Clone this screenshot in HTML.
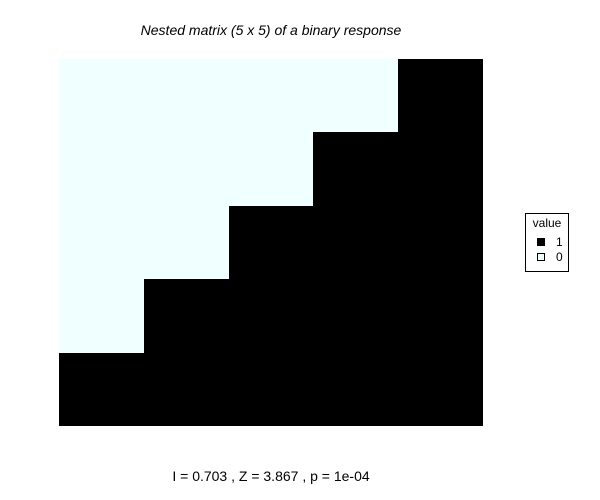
<!DOCTYPE html>
<html><head><meta charset="utf-8"><style>
body{margin:0;background:#fff;}
svg{display:block;font-family:"Liberation Sans",Arial,sans-serif;}
</style></head><body>
<svg id="chart" width="600" height="500">
<text x="271" y="35" text-anchor="middle" font-size="14" font-style="italic">Nested matrix (5 x 5) of a binary response</text>
<g id="cells"></g>
<text x="271" y="481" text-anchor="middle" font-size="14">I = 0.703 , Z = 3.867 , p = 1e-04</text>
<g>
<rect x="525.5" y="213.5" width="43" height="58" fill="#fff" stroke="#000"/>
<text x="547" y="227" text-anchor="middle" font-size="12">value</text>
<rect x="537.5" y="238.5" width="7" height="7" fill="#000" stroke="#000"/>
<text x="556" y="246" font-size="12">1</text>
<rect x="537.5" y="253.5" width="7" height="7" fill="#f0ffff" stroke="#000"/>
<text x="556" y="261" font-size="12">0</text>
</g>
</svg>
<script>
const rowsLabels = [1,2,3,4,5];
const colsLabels = [1,2,3,4,5];
const matrix = [
  [0,0,0,0,1],
  [0,0,0,1,1],
  [0,0,1,1,1],
  [0,1,1,1,1],
  [1,1,1,1,1]
];
const X0=59,X1=483,Y0=59,Y1=426;
function xScale(i){return X0+(X1-X0)*i/colsLabels.length;}
function yScale(j){return Y0+(Y1-Y0)*j/rowsLabels.length;}
const g=document.getElementById('cells');
const ns='http://www.w3.org/2000/svg';
matrix.forEach((row,r)=>row.forEach((v,c)=>{
  const el=document.createElementNS(ns,'rect');
  const x=Math.round(xScale(c)),x2=Math.round(xScale(c+1));
  const y=Math.round(yScale(r)),y2=Math.round(yScale(r+1));
  el.setAttribute('x',x);el.setAttribute('y',y);
  el.setAttribute('width',x2-x);el.setAttribute('height',y2-y);
  el.setAttribute('fill',v?'#000':'#f0ffff');
  
  
  g.appendChild(el);
}));
</script>
</body></html>
